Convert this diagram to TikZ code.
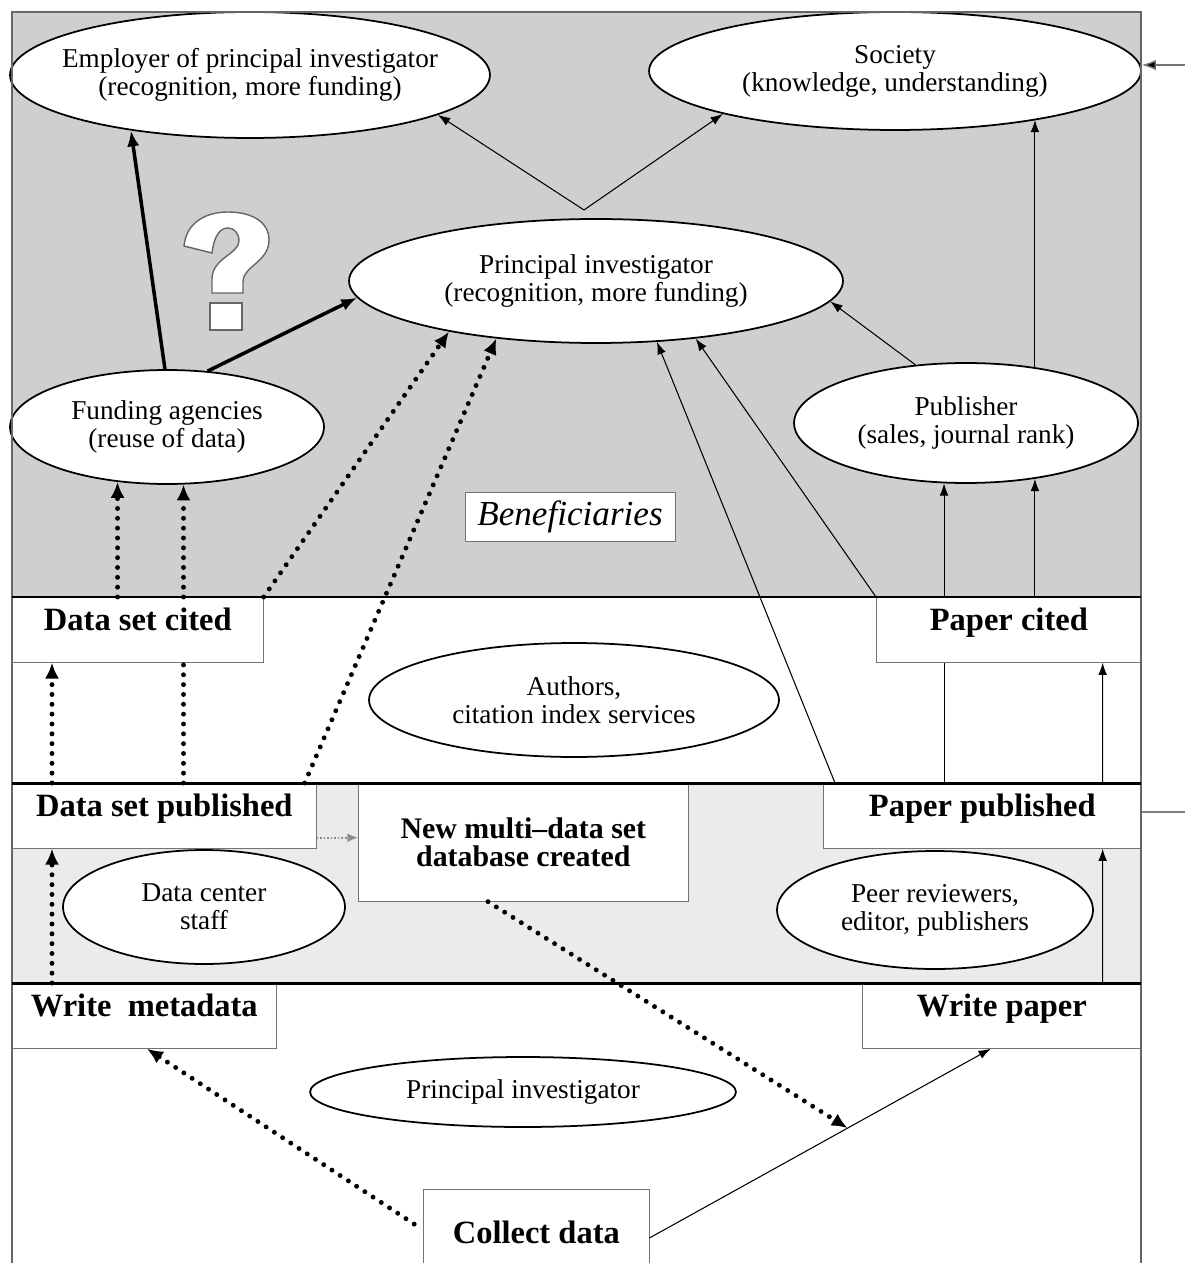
\documentclass[tikz,border=0pt]{standalone}
\usepackage{fontspec}
\setmainfont{Liberation Serif}
\usepackage{tikz}
\usetikzlibrary{arrows.meta,positioning,calc,shapes.geometric}
\tikzset{
  stagebox/.style={draw=black!55,fill=white,inner sep=0pt,anchor=north west,
    minimum height=1.3cm,text height=19pt,text depth=17.85pt,
    font=\fontsize{18.5}{18}\selectfont\bfseries},
  actoroval/.style={ellipse,draw=black,line width=1pt,fill=white,align=center,
    inner xsep=-30pt,inner ysep=0pt,font=\fontsize{15.5}{16}\selectfont},
  thinline/.style={line width=0.6pt},
  thinarrow/.style={-{Latex[length=7pt,width=5pt]},line width=0.6pt},
  thickarrow/.style={-{Latex[length=9pt,width=7pt]},line width=2pt},
  dotline/.style={line width=2.8pt,line cap=round,dash pattern=on 0pt off 5.6pt},
  dotarrow/.style={dotline,-{Latex[length=9pt,width=8pt]}},
  linkarrow/.style={black!45,line width=1pt,dash pattern=on 1pt off 1pt,
    -{Latex[length=6pt,width=5pt]}},
  bandline/.style={line width=1.7pt}
}

\begin{document}
\begin{tikzpicture}[x=0.02cm,y=-0.02cm]
  \useasboundingbox (0,0) rectangle (1185,1263);
  % shaded bands
  \fill[black!19] (12,12) rectangle (1141,597);
  \fill[black!8] (12,783) rectangle (1141,983);
  % question mark
  \draw[black!60,fill=white,line width=0.8pt] (184,246)
    .. controls (186,224) and (204,212) .. (228,212)
    .. controls (252,212) and (269,222) .. (269,240)
    .. controls (269,262) and (243,266) .. (243,282)
    -- (243,293) -- (212,293) -- (212,279)
    .. controls (212,258) and (239,254) .. (239,241)
    .. controls (239,233) and (234,228) .. (228,228)
    .. controls (220,228) and (214,236) .. (212,253) -- cycle;
  \draw[black!60,fill=white,line width=0.8pt] (210,303) rectangle (242,330);

  % beneficiaries
  \node[actoroval,minimum width=9.6cm,minimum height=2.52cm] (employer) at (250,75) {Employer of principal investigator\\(recognition, more funding)};
  \node[actoroval,minimum width=9.84cm,minimum height=2.36cm] (society) at (895,71) {Society\\(knowledge, understanding)};
  \node[actoroval,minimum width=9.88cm,minimum height=2.48cm] (pi) at (596,281) {Principal investigator\\(recognition, more funding)};
  \node[actoroval,minimum width=6.28cm,minimum height=2.28cm] (funding) at (167,427) {Funding agencies\\(reuse of data)};
  \node[actoroval,minimum width=6.88cm,minimum height=2.4cm] (publisher) at (966,423) {Publisher\\(sales, journal rank)};
  \node[draw=black!55,fill=white,minimum width=4.2cm,minimum height=0.98cm,font=\fontsize{20}{20}\selectfont\itshape] (benef) at (570,517) {Beneficiaries};

  % stages
  \node[stagebox,minimum width=5.02cm] (dcited) at (12,597) {Data set cited};
  \node[stagebox,minimum width=5.3cm] (pcited) at (876,597) {Paper cited};
  \node[actoroval,minimum width=8.2cm,minimum height=2.28cm] (authors) at (574,700) {Authors,\\citation index services};
  \node[stagebox,minimum width=6.08cm] (dpub) at (12,783) {Data set published};
  \node[stagebox,minimum width=6.36cm] (ppub) at (823,783) {Paper published};
  \node[draw=black!55,fill=white,anchor=north west,minimum width=6.6cm,minimum height=2.36cm,align=center,
    font=\fontsize{17}{16}\selectfont\bfseries] (multi) at (358,783) {New multi–data set\\database created};
  \node[actoroval,minimum width=5.64cm,minimum height=2.28cm] (staff) at (204,907) {Data center\\staff};
  \node[actoroval,minimum width=6.32cm,minimum height=2.36cm] (peers) at (935,910) {Peer reviewers,\\editor, publishers};
  \node[stagebox,minimum width=5.28cm] (wmeta) at (12,983) {Write~ metadata};
  \node[stagebox,minimum width=5.58cm] (wpaper) at (862,983) {Write paper};
  \node[actoroval,minimum width=8.52cm,minimum height=1.4cm] (pibottom) at (523,1092) {Principal investigator};
  \node[stagebox,minimum width=4.52cm,minimum height=1.62cm,text height=30.6pt,text depth=15.3pt] (collect) at (423,1189) {Collect data};

  % solid connectors
  \coordinate (apex) at (584,210);
  \draw[thinarrow] (apex) -- (employer.-12);
  \draw[thinarrow] (apex) -- (society.194);
  \draw[thickarrow] (funding.92) -- (employer.205);
  \draw[thickarrow] (funding.54) -- (pi.184);
  \draw[thinarrow] (publisher.131) -- (pi.-5);
  \draw[thinarrow] (publisher.39) -- (publisher.39 |- society.-19);
  \draw[thinarrow] (pcited.north -| publisher.-39) -- (publisher.-39);
  \draw[thinarrow] (pcited.north -| publisher.250) -- (publisher.250);
  \draw[thinline] (ppub.north -| publisher.250) -- (pcited.south -| publisher.250);
  \draw[thinarrow] (pcited.north west) -- (pi.-30);
  \draw[thinarrow] ($(ppub.north west)+(12,0)$) -- (pi.-45);
  \draw[thinarrow] ($(ppub.north east)+(-39,0)$) -- ($(pcited.south east)+(-39,0)$);
  \draw[thinarrow] ($(wpaper.north east)+(-39,0)$) -- ($(ppub.south east)+(-39,0)$);
  \draw[thinarrow] ($(collect.east)+(0,8)$) -- coordinate[pos=0.58] (meet) ($(wpaper.south)+(-11,0)$);

  % dotted connectors
  \draw[dotarrow] (dcited.north -| funding.228) -- (funding.228);
  \draw[dotline] (dpub.north -| funding.-74) -- (dcited.south -| funding.-74);
  \draw[dotarrow] (dcited.north -| funding.-74) -- (funding.-74);
  \draw[dotarrow] (dcited.north east) -- (pi.199);
  \draw[dotarrow] ($(dpub.north east)+(-12,0)$) -- (pi.210);
  \draw[dotarrow] ($(dpub.north west)+(40,0)$) -- ($(dcited.south west)+(40,0)$);
  \draw[dotarrow] ($(wmeta.north west)+(40,0)$) -- ($(dpub.south west)+(40,0)$);
  \draw[dotarrow,shorten <=6pt] (collect.west) -- ($(wmeta.south west)+(135,0)$);
  \draw[dotarrow] ($(multi.south west)+(130,0)$) -- (meet);
  \coordinate (link) at ($(dpub.south east)+(0,-11)$);
  \draw[linkarrow] (link) -- (link -| multi.west);

  % lines leaving the frame
  \coordinate (outsoc) at (1185,65);
  \draw[draw=black!55,line width=0.8pt,-{Latex[length=8pt,width=6pt,fill=black]}] (outsoc) -- (outsoc -| society.east);
  \coordinate (outpub) at (1185,812);
  \draw[line width=0.8pt,black!50] (ppub.east |- outpub) -- (outpub);

  % frame and band edges
  \draw[black!60,line width=0.6pt] (12,12) rectangle (1141,1275);
  \draw[bandline] (12,597) -- (1141,597);
  \draw[bandline] (12,783) -- (1141,783);
  \draw[bandline] (12,983) -- (1141,983);
\end{tikzpicture}
\end{document}
